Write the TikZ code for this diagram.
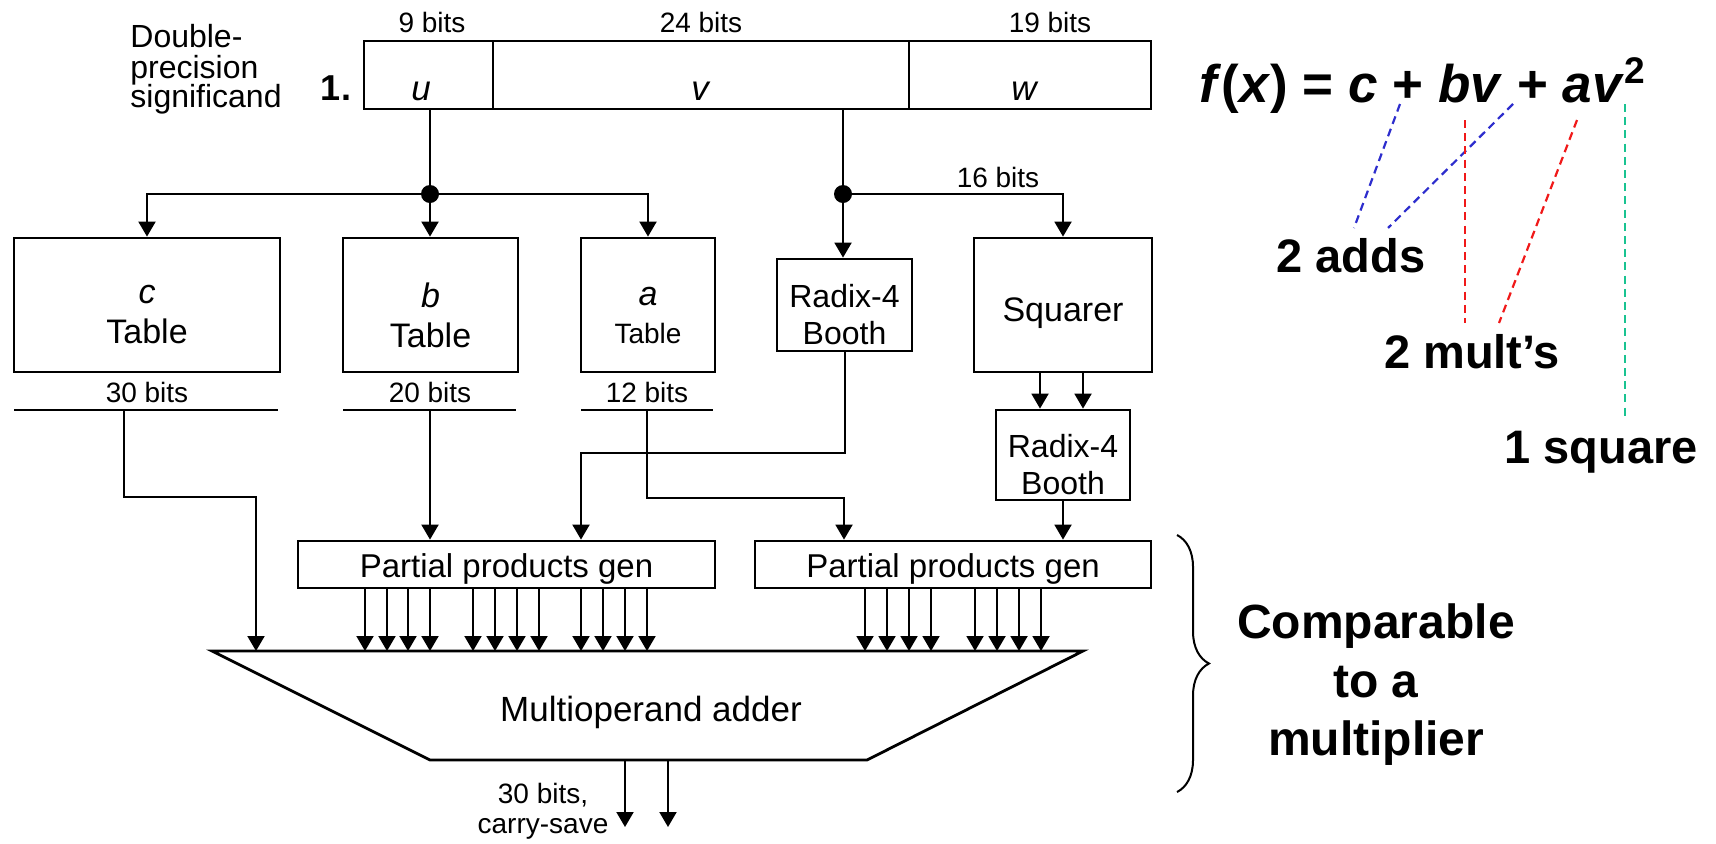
\documentclass[tikz,border=0pt]{standalone}
\usepackage{fontspec}
\setmainfont{Liberation Sans}
\usetikzlibrary{arrows.meta,decorations.pathreplacing,calc}
\definecolor{dblue}{RGB}{45,45,205}
\definecolor{dred}{RGB}{240,25,25}
\definecolor{dgreen}{RGB}{25,195,145}
\newcommand{\fsz}[2]{\fontsize{#1}{#2}\selectfont}
\begin{document}
\begin{tikzpicture}[x=0.5pt,y=-0.5pt,
  blk/.style={draw, line width=1.4pt, inner sep=0pt},
  btxt/.style={inner sep=0pt, align=center},
  conn/.style={line width=1pt},
  arr/.style={line width=1pt, -{Triangle[length=7.5pt,width=8.5pt]}},
  busline/.style={line width=1.4pt},
  lbl/.style={inner sep=0pt, font=\fsz{14}{17}},
  dsh/.style={line width=1.1pt, dash pattern=on 4pt off 2.6pt},
  big/.style={inner sep=0pt, font=\fsz{23.5}{28}\bfseries},
]
\path[use as bounding box] (0,0) rectangle (1716,843);

% ---- significand fields
\node[blk, minimum width=64.5pt, minimum height=34pt] (uf) at (428.5,75) {};
\node[blk, minimum width=208pt, minimum height=34pt] (vf) at (701,75) {};
\node[blk, minimum width=121pt, minimum height=34pt] (wf) at (1030,75) {};
\node[anchor=base, inner sep=0pt, font=\fsz{17.5}{21}\itshape] (ul) at (421,100) {u};
\node[anchor=base, inner sep=0pt, font=\fsz{17.5}{21}\itshape] (vl) at (700,100) {v};
\node[anchor=base, inner sep=0pt, font=\fsz{17.5}{21}\itshape] (wl) at (1024,100) {w};
\node[anchor=base, inner sep=0pt, font=\fsz{18}{22}\bfseries] (one) at (336,100) {1.};
\node[lbl, anchor=base] (b9) at (432,32) {9 bits};
\node[lbl, anchor=base] (b24) at (701,32) {24 bits};
\node[lbl, anchor=base] (b19) at (1050,32) {19 bits};
\node[inner sep=0pt, anchor=base west, font=\fsz{16}{19}] (d1) at (130,47) {Double-};
\node[inner sep=0pt, anchor=base west, font=\fsz{16}{19}] (d2) at (130,78) {precision};
\node[inner sep=0pt, anchor=base west, font=\fsz{16}{19}] (d3) at (130,107) {significand};

% ---- tables and blocks
\node[blk, minimum width=133pt, minimum height=67pt] (ct) at (147,305) {};
\node[btxt, font=\fsz{17}{20}] (ctt) at ([yshift=-5pt]ct.center) {\textit{c}\\Table};
\node[blk, minimum width=87.5pt, minimum height=67pt] (bt) at (430.5,305) {};
\node[btxt, font=\fsz{17}{20}] (btt) at ([yshift=-5pt]bt.center) {\textit{b}\\Table};
\node[blk, minimum width=67pt, minimum height=67pt] (at) at (648,305) {};
\node[btxt, font=\fsz{14}{19}] (att) at ([yshift=-5pt]at.center) {{\fsz{17}{20}\textit{a}}\\Table};
\node[blk, minimum width=67.5pt, minimum height=46pt] (bo1) at (844.5,305) {};
\node[btxt, font=\fsz{16}{18.5}] (bo1t) at ([yshift=-5pt]bo1.center) {Radix-4\\Booth};
\node[blk, minimum width=89pt, minimum height=67pt] (sq) at (1063,305) {};
\node[btxt, font=\fsz{17}{20}] (sqt) at ([yshift=-4pt]sq.center) {Squarer};
\node[blk, minimum width=67pt, minimum height=45pt] (bo2) at (1063,455) {};
\node[btxt, font=\fsz{16}{18.5}] (bo2t) at ([yshift=-5pt]bo2.center) {Radix-4\\Booth};
\node[blk, minimum width=208.5pt, minimum height=23.5pt, font=\fsz{16.5}{20}, text height=13pt, text depth=0pt] (ppg1) at (506.5,564.5) {Partial products gen};
\node[blk, minimum width=198pt, minimum height=23.5pt, font=\fsz{16.5}{20}, text height=13pt, text depth=0pt] (ppg2) at (953,564.5) {Partial products gen};

% ---- table output buses
\node[lbl, anchor=base] (c30) at (147,402) {30 bits};
\node[lbl, anchor=base] (b20) at (430,402) {20 bits};
\node[lbl, anchor=base] (a12) at (647,402) {12 bits};
\draw[busline] (14,410) -- (278,410);
\draw[busline] (343,410) -- (516,410);
\draw[busline] (581,410) -- (713,410);

% ---- distribution from u and v
\coordinate (ud) at (430,194);
\coordinate (vd) at (843,194);
\draw[conn] (uf.south -| ud) -- (ud);
\fill (ud) circle (4.5pt);
\draw[arr] (ud) -| (ct.north);
\draw[arr] (ud) -- (ud |- bt.north);
\draw[arr] (ud) -| (at.north);
\draw[conn] (vf.south -| vd) -- (vd);
\fill (vd) circle (4.5pt);
\draw[arr] (vd) -- (vd |- bo1.north);
\draw[arr] (vd) -| (sq.north);
\node[lbl, anchor=base] (b16) at (998,187) {16 bits};

\draw[arr] ([xshift=-11.5pt]sq.south) -- ([xshift=-11.5pt]bo2.north);
\draw[arr] ([xshift=10pt]sq.south) -- ([xshift=10pt]bo2.north);
\draw[arr] (bo2.south) -- (bo2.south |- ppg2.north);

% ---- adder
\coordinate (addtl) at (212,651);
\coordinate (addtr) at (1083,651);
\coordinate (addbr) at (867,760);
\coordinate (addbl) at (430,760);
\draw[line width=1.4pt, line join=miter] (addtl) -- (addtr) -- (addbr) -- (addbl) -- cycle;
\node[inner sep=0pt, font=\fsz{17.5}{21}] (addtxt) at (651,712) {Multioperand adder};

% ---- buses into the partial product generators and adder
\coordinate (cb) at (124,410);
\coordinate (cturn) at (256,497);
\draw[arr] (cb) |- (cturn) -- (cturn |- addtl);
\coordinate (bb) at (430,410);
\draw[arr] (bb) -- (bb |- ppg1.north);
\coordinate (ab) at (647,410);
\coordinate (aturn) at (844,498);
\draw[arr] (ab) |- (aturn) -- (aturn |- ppg2.north);
\coordinate (bturn) at (581,453);
\draw[arr] (bo1.south) |- (bturn) -- (bturn |- ppg1.north);

\foreach \x in {365,387,408,430,473,495,517,539,581,603,625,647}
  \draw[arr] (\x,588) -- (\x,651);
\foreach \x in {865,887,909,931,975,997,1019,1041}
  \draw[arr] (\x,588) -- (\x,651);

\draw[arr] (625,760) -- (625,827);
\draw[arr] (668,760) -- (668,827);
\node[lbl, anchor=base] (o1) at (543,803) {30 bits,};
\node[lbl, anchor=base] (o2) at (543,833) {carry-save};

% ---- brace
\draw[line width=1pt, decorate, decoration={brace, amplitude=16pt}] (1177,535) -- (1177,792);
\node[inner sep=0pt, anchor=base, font=\fsz{24}{29}\bfseries] (cm1) at (1376,638) {Comparable};
\node[inner sep=0pt, anchor=base, font=\fsz{24}{29}\bfseries] (cm2) at (1376,697) {to a};
\node[inner sep=0pt, anchor=base, font=\fsz{24}{29}\bfseries] (cm3) at (1376,755) {multiplier};

% ---- formula
\node[anchor=base west, inner sep=0pt, font=\fsz{26.5}{30}\bfseries] (fx) at (1199,102)
  {\textit{f}(\textit{x}) = \textit{c} + \textit{bv} + \textit{av}\textsuperscript{2}};
\node[big, anchor=base] (adds) at (1351,272) {2 adds};
\node[big, anchor=base] (mults) at (1472,368) {2 mult’s};
\node[big, anchor=base] (sqr) at (1601,463) {1 square};

\coordinate (p1) at (1400,104); \coordinate (p1e) at (1354,228);
\coordinate (p2) at (1513,104); \coordinate (p2e) at (1388,228);
\coordinate (m1) at (1465,120); \coordinate (m1e) at (1465,323);
\coordinate (m2) at (1577,120); \coordinate (m2e) at (1499,323);
\coordinate (s1) at (1625,104); \coordinate (s1e) at (1625,420);
\draw[dsh, dblue] (p1) -- (p1e);
\draw[dsh, dblue] (p2) -- (p2e);
\draw[dsh, dred] (m1) -- (m1e);
\draw[dsh, dred] (m2) -- (m2e);
\draw[dsh, dgreen] (s1) -- (s1e);
\end{tikzpicture}
\end{document}
